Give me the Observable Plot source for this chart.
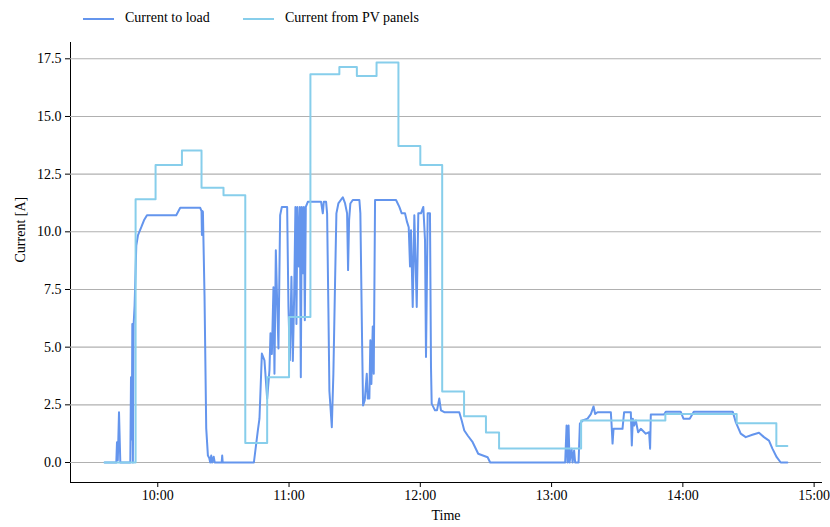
<!DOCTYPE html>
<html>
<head>
<meta charset="utf-8">
<script src="https://cdn.jsdelivr.net/npm/d3@7"></script>
<script src="https://cdn.jsdelivr.net/npm/@observablehq/plot@0.6"></script>
<style>
  body { margin: 0; background: #fff; font-family: "Liberation Serif", "Times New Roman", serif; }
  #legend { position: relative; height: 36px; width: 830px; font-size: 14px; color: #000; }
  .sw { position: absolute; top: 18px; width: 31px; height: 2px; }
  .lt { position: absolute; top: 9px; line-height: 18px; white-space: nowrap; }
</style>
</head>
<body>
<div id="legend"></div>
<div id="chart"></div>
<script>
// Series names and colours
const seriesNames = ["Current to load", "Current from PV panels"];
const seriesColors = ["#6495ED", "#87CEEB"];
const xLabel = "Time";
const yLabel = "Current [A]";

// Current from PV panels (step series): sample times and values [A]
const pvTimes = ["09:35:43","09:49:52","09:59:00","10:11:03","10:20:00","10:30:03","10:40:00","10:50:00",
  "11:00:00","11:09:46","11:23:00","11:31:00","11:40:00","11:50:00","12:00:00","12:10:00","12:20:00",
  "12:30:00","12:36:00","13:13:30","13:52:00","14:24:36","14:42:44","14:47:46"];
const pvCurrent = [0, 11.41, 12.9, 13.53, 11.91, 11.59, 0.84, 3.7, 6.31, 16.83, 17.14, 16.75, 17.34,
  13.72, 12.9, 3.08, 2.0, 1.3, 0.61, 1.82, 2.1, 1.7, 0.72, 0.72];

// Current to load: sample times and values [A]
const loadTimes = ["09:35:43","09:41:03","09:41:22","09:41:44","09:42:17","09:42:53","09:47:27","09:47:46",
  "09:48:08","09:48:22","09:48:38","09:48:57","09:49:25","09:50:11","09:50:58","09:52:28","09:53:42",
  "09:55:04","10:08:27","10:10:16","10:19:25","10:20:00","10:20:11","10:20:25","10:20:38","10:21:22",
  "10:22:09","10:22:55","10:23:31","10:23:58","10:24:26","10:24:53","10:25:34","10:26:02","10:29:13",
  "10:29:27","10:29:41","10:43:56","10:45:45","10:46:29","10:47:35","10:48:46","10:50:00","10:51:03",
  "10:51:31","10:52:09","10:52:53","10:53:20","10:53:58","10:54:34","10:55:10","10:55:56","10:56:43",
  "10:59:08","10:59:44","11:00:22","11:01:06","11:01:44","11:02:20","11:02:55","11:03:23","11:03:50",
  "11:04:28","11:04:56","11:05:23","11:05:50","11:06:18","11:06:46","11:07:13","11:07:40","11:08:35",
  "11:14:39","11:15:26","11:15:53","11:16:56","11:17:24","11:17:59","11:18:27","11:19:33","11:20:16",
  "11:21:03","11:21:39","11:22:33","11:24:34","11:25:37","11:26:32","11:26:59","11:27:27","11:28:02",
  "11:29:08","11:32:09","11:32:36","11:33:23","11:33:50","11:34:37","11:35:32","11:35:59","11:36:43",
  "11:37:10","11:37:38","11:38:16","11:38:43","11:39:19","11:48:54","11:50:25","11:51:30","11:53:01",
  "11:53:56","11:54:42","11:55:18","11:55:45","11:56:32","11:57:16","11:58:22","11:59:05","12:00:19",
  "12:01:22","12:02:09","12:02:36","12:03:22","12:04:25","12:04:53","12:05:12","12:06:42","12:07:37",
  "12:08:40","12:09:27","12:10:58","12:17:49","12:18:55","12:20:06","12:21:39","12:23:56","12:26:28",
  "12:30:46","12:31:57","13:06:13","13:06:51","13:07:18","13:07:46","13:08:13","13:09:08","13:09:35",
  "13:10:19","13:10:46","13:12:20","13:12:56","13:14:10","13:16:27","13:17:57","13:19:11","13:19:55",
  "13:21:00","13:27:05","13:27:24","13:27:52","13:28:19","13:32:25","13:33:09","13:36:13","13:36:40",
  "13:37:08","13:37:43","13:38:30","13:39:33","13:40:47","13:43:04","13:44:34","13:45:02","13:45:21",
  "13:51:25","13:52:11","13:59:02","14:00:16","14:03:08","14:05:00","14:22:49","14:24:11","14:26:27",
  "14:28:44","14:31:47","14:34:48","14:37:05","14:39:22","14:40:56","14:42:54","14:44:44","14:47:46"];
const loadCurrent = [0, 0, 0.88, 0.1, 2.18, 0, 0, 3.7,
  1.0, 6.0, 0, 5.95, 6.8, 9.4, 9.86, 10.2, 10.5,
  10.72, 10.72, 11.04, 11.04, 10.9, 9.86, 10.9, 10.87, 7.25,
  1.48, 0.3, 0.2, 0, 0.3, 0, 0.25, 0, 0,
  0.3, 0, 0, 1.39, 1.9, 4.72, 4.43, 2.77, 4.0,
  5.6, 4.7, 7.6, 3.85, 9.2, 7.0, 4.94, 10.72, 11.08,
  11.08, 6.74, 4.43, 8.05, 4.4, 7.2, 11.08, 6.0, 11.08,
  8.5, 11.08, 3.7, 11.08, 8.2, 11.08, 6.17, 11.08, 11.3,
  11.3, 10.8, 11.3, 11.3, 10.8, 6.7, 3.1, 1.53, 3.85,
  7.9, 10.8, 11.23, 11.5, 11.23, 10.8, 8.34, 10.5, 11.23,
  11.38, 11.38, 10.8, 5.3, 2.47, 2.7, 3.85, 2.77, 2.77,
  5.3, 3.4, 5.9, 3.85, 11.38, 11.38, 11.08, 10.8, 10.8,
  10.43, 10.2, 8.5, 10.07, 6.74, 10.72, 6.74, 10.8, 10.8,
  11.08, 9.64, 4.57, 10.8, 10.8, 4.14, 2.55, 2.26, 2.26,
  2.77, 2.26, 2.18, 2.18, 1.82, 1.39, 1.17, 0.88, 0.38,
  0.23, 0, 0, 1.6, 0, 1.6, 0, 0.6, 0,
  0.52, 0, 0, 1.68, 1.82, 1.9, 2.1, 2.43, 2.1,
  2.18, 2.18, 1.68, 0.82, 1.46, 1.46, 2.18, 2.18, 0.74,
  1.9, 1.6, 1.82, 1.31, 1.46, 1.25, 1.31, 0.6, 2.08,
  2.08, 2.2, 2.2, 1.9, 1.9, 2.2, 2.2, 1.75, 1.25,
  1.1, 1.2, 1.29, 1.1, 0.95, 0.6, 0.23, 0, 0];

// Axis ticks
const xTickLabels = ["10:00", "11:00", "12:00", "13:00", "14:00", "15:00"];
const yTickValues = [0, 2.5, 5, 7.5, 10, 12.5, 15, 17.5];

const parseT = d3.utcParse("%H:%M:%S");
const parseTick = d3.utcParse("%H:%M");
const fmtTick = d3.utcFormat("%H:%M");

const pvData = pvTimes.map((t, i) => ({time: parseT(t), current: pvCurrent[i]}));
const loadData = loadTimes.map((t, i) => ({time: parseT(t), current: loadCurrent[i]}));
const xTicks = xTickLabels.map(parseTick);

// matplotlib-like 5% margins
const allT = [...pvData, ...loadData].map(d => +d.time);
const tMin = d3.min(allT), tMax = d3.max(allT), tPad = (tMax - tMin) * 0.05;
const allV = [...pvCurrent, ...loadCurrent];
const vMin = d3.min(allV), vMax = d3.max(allV), vPad = (vMax - vMin) * 0.05;

// Legend
const legend = document.getElementById("legend");
const legendPos = [[83, 125], [243, 285]];
seriesNames.forEach((name, i) => {
  const sw = document.createElement("div");
  sw.className = "sw"; sw.style.left = legendPos[i][0] + "px"; sw.style.background = seriesColors[i];
  const tx = document.createElement("div");
  tx.className = "lt"; tx.style.left = legendPos[i][1] + "px"; tx.textContent = name;
  legend.appendChild(sw); legend.appendChild(tx);
});

const chart = Plot.plot({
  width: 830,
  height: 491,
  marginLeft: 70,
  marginRight: 9,
  marginTop: 6,
  marginBottom: 45,
  style: {fontFamily: "Liberation Serif, Times New Roman, serif", fontSize: "14px", color: "#000", background: "#fff"},
  x: {
    type: "utc",
    domain: [new Date(tMin - tPad), new Date(tMax + tPad)],
    ticks: xTicks,
    tickFormat: fmtTick,
    tickSize: 5,
    tickPadding: 3,
    line: true,
    label: null
  },
  y: {
    domain: [vMin - vPad, vMax + vPad],
    ticks: yTickValues,
    tickFormat: d3.format(".1f"),
    tickSize: 5,
    tickPadding: 4,
    line: true,
    label: null
  },
  marks: [
    Plot.ruleY(yTickValues, {stroke: "#b0b0b0", strokeWidth: 1.1}),
    Plot.line(loadData, {x: "time", y: "current", stroke: seriesColors[0], strokeWidth: 2}),
    Plot.line(pvData, {x: "time", y: "current", stroke: seriesColors[1], strokeWidth: 2, curve: "step-after"}),
    Plot.text([xLabel], {text: d => d, frameAnchor: "bottom", dy: 37, fill: "#000"}),
    Plot.text([yLabel], {text: d => d, frameAnchor: "left", dx: -50, rotate: -90, fill: "#000"})
  ]
});
document.getElementById("chart").appendChild(chart);
</script>
</body>
</html>
